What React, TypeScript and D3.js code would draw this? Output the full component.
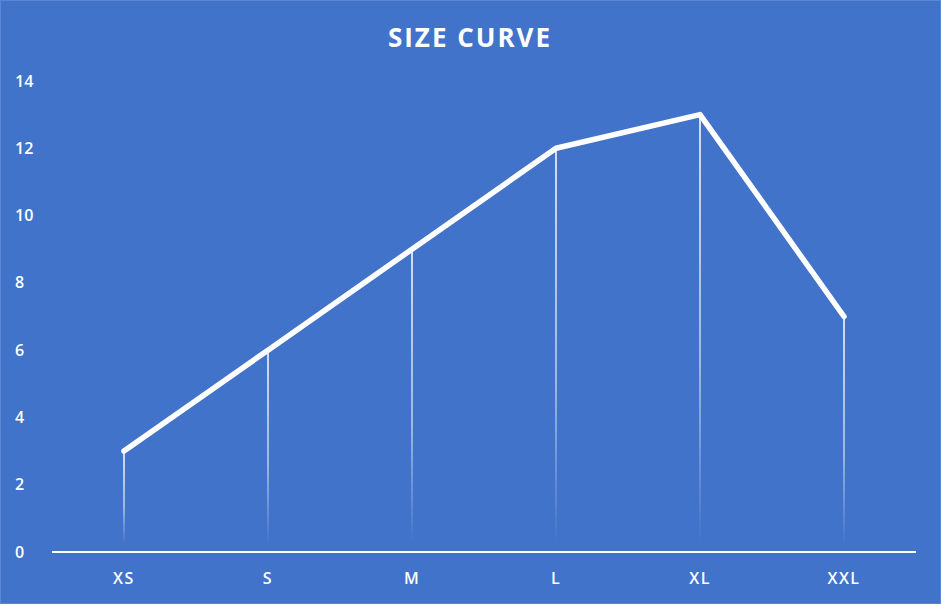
import React from 'react';
import * as d3 from 'd3';

const sizes = ['XS', 'S', 'M', 'L', 'XL', 'XXL'];
const counts = [3, 6, 9, 12, 13, 7];
const yTicks = [0, 2, 4, 6, 8, 10, 12, 14];

const W = 941;
const H = 604;
const BG = '#4173CA';

const App = () => {
  const x = d3.scaleBand<string>().domain(sizes).range([52, 916]).padding(0);
  const y = d3.scaleLinear().domain([0, 14]).range([552, 81]);
  const cx = (s: string) => (x(s) as number) + x.bandwidth() / 2;

  const pts = sizes.map((s, i) => ({ s, v: counts[i] }));
  const path = d3.line<{ s: string; v: number }>()
    .x((d) => cx(d.s))
    .y((d) => y(d.v))(pts) as string;

  return (
    <svg
      width={W}
      height={H}
      style={{ position: 'absolute', left: 0, top: 0, fontFamily: '"Open Sans", sans-serif' }}
    >
      <defs>
        <linearGradient id="drop" x1="0" y1="0" x2="0" y2="1">
          <stop offset="0" stopColor="#fff" stopOpacity={0.95} />
          <stop offset="0.6" stopColor="#fff" stopOpacity={0.6} />
          <stop offset="1" stopColor="#fff" stopOpacity={0} />
        </linearGradient>
      </defs>
      <rect x={0.5} y={0.5} width={W - 1} height={H - 1} fill={BG} stroke="#5b86d2" strokeWidth={1} />
      <text
        x={470}
        y={47}
        textAnchor="middle"
        fill="#fff"
        fontSize={26}
        fontWeight={700}
        letterSpacing={2}
      >
        SIZE CURVE
      </text>
      {yTicks.map((t) => (
        <text key={t} x={15} y={y(t)} dy="0.35em" fill="#fff" fontSize={16} fontWeight={600}>
          {t}
        </text>
      ))}
      {pts.map((d) => (
        <rect
          key={d.s}
          x={cx(d.s) - 0.8}
          y={y(d.v)}
          width={1.6}
          height={y(0) - y(d.v) - 8}
          fill="url(#drop)"
        />
      ))}
      <line x1={52} x2={916} y1={y(0)} y2={y(0)} stroke="#fff" strokeWidth={2} />
      <path d={path} fill="none" stroke="#fff" strokeWidth={5.5} strokeLinejoin="round" strokeLinecap="round" />
      {sizes.map((s) => (
        <text
          key={s}
          x={cx(s)}
          y={584}
          textAnchor="middle"
          fill="#fff"
          fontSize={16}
          fontWeight={600}
          letterSpacing={1.5}
        >
          {s}
        </text>
      ))}
    </svg>
  );
};

export default App;
